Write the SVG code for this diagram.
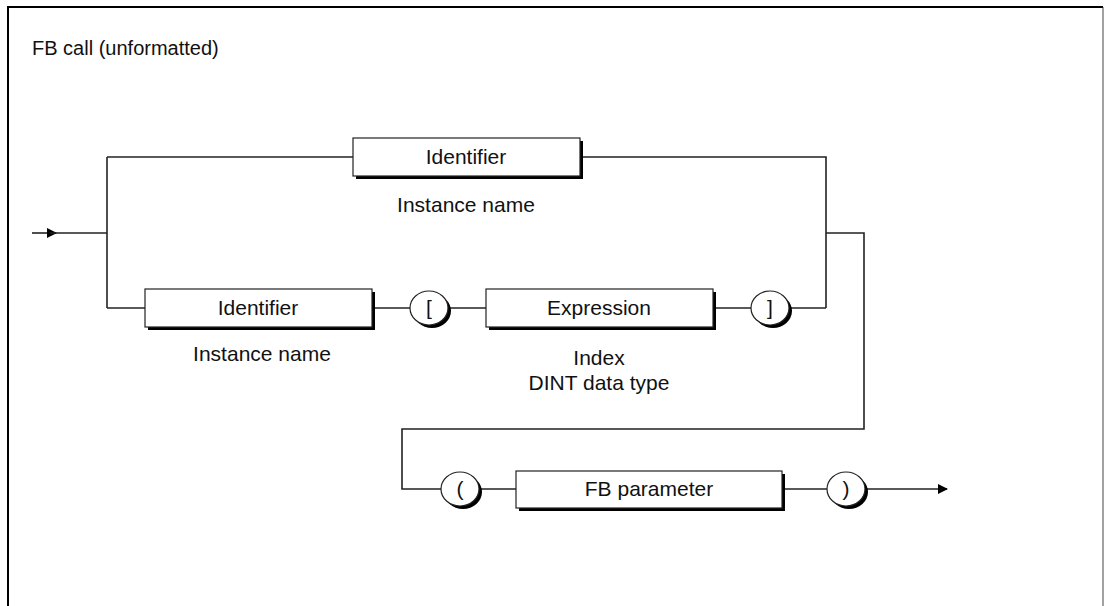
<svg xmlns="http://www.w3.org/2000/svg" width="1105" height="606" viewBox="0 0 1105 606">
<style>
.t{font-family:"Liberation Sans",Arial,sans-serif;font-size:21px;fill:#111;text-anchor:middle}
.ln{fill:none;stroke:#222;stroke-width:1.6}
.box{fill:#fff;stroke:#222;stroke-width:1.2}
.sh{fill:#000}
</style>
<defs>
<marker id="arr" markerWidth="10" markerHeight="10" refX="9" refY="5" orient="auto" markerUnits="userSpaceOnUse">
<path d="M0,0 L10,5 L0,10 Z" fill="#000"/>
</marker>
</defs>
<rect x="0" y="0" width="1105" height="606" fill="#fff"/>
<path d="M8,606 V7 H1103" fill="none" stroke="#000" stroke-width="2"/>
<line x1="1103" y1="7" x2="1103" y2="606" stroke="#444" stroke-width="1"/>
<text x="32" y="55" class="t" style="text-anchor:start;font-size:20px">FB call (unformatted)</text>

<g id="connectors">
<path class="ln" d="M32,233 H56" marker-end="url(#arr)"/>
<path class="ln" d="M50,233 H107"/>
<path class="ln" d="M107,157 V308"/>
<path class="ln" d="M107,157 H353"/>
<path class="ln" d="M583,157 H826 V308"/>
<path class="ln" d="M107,308 H145"/>
<path class="ln" d="M372,308 H410"/>
<path class="ln" d="M448,308 H486"/>
<path class="ln" d="M713,308 H751"/>
<path class="ln" d="M789,308 H826"/>
<path class="ln" d="M826,233 H864 V429 H402 V489 H441"/>
<path class="ln" d="M479,489 H516"/>
<path class="ln" d="M782,489 H827"/>
<path class="ln" d="M865,489 H947" marker-end="url(#arr)"/>
</g>

<g id="n_identifier_top">
<rect class="sh" x="356" y="141" width="227" height="38"/>
<rect class="box" x="353" y="138" width="227" height="38"/>
<text x="466" y="164" class="t">Identifier</text>
</g>
<g id="lbl_instance_top"><text x="466" y="212" class="t">Instance name</text></g>

<g id="n_identifier_bottom">
<rect class="sh" x="148" y="292" width="227" height="38"/>
<rect class="box" x="145" y="289" width="227" height="38"/>
<text x="258" y="315" class="t">Identifier</text>
</g>
<g id="lbl_instance_bottom"><text x="262" y="361" class="t">Instance name</text></g>

<g id="n_lbracket">
<ellipse class="sh" cx="432" cy="311" rx="19" ry="17"/>
<ellipse class="box" cx="429" cy="308" rx="19" ry="17"/>
<text x="429" y="315" class="t">[</text>
</g>

<g id="n_expression">
<rect class="sh" x="489" y="292" width="227" height="38"/>
<rect class="box" x="486" y="289" width="227" height="38"/>
<text x="599" y="315" class="t">Expression</text>
</g>
<g id="lbl_index">
<text x="599" y="365" class="t">Index</text>
<text x="599" y="390" class="t">DINT data type</text>
</g>

<g id="n_rbracket">
<ellipse class="sh" cx="773" cy="311" rx="19" ry="17"/>
<ellipse class="box" cx="770" cy="308" rx="19" ry="17"/>
<text x="770" y="315" class="t">]</text>
</g>

<g id="n_lparen">
<ellipse class="sh" cx="463" cy="492" rx="19" ry="17"/>
<ellipse class="box" cx="460" cy="489" rx="19" ry="17"/>
<text x="460" y="496" class="t">(</text>
</g>

<g id="n_fbparam">
<rect class="sh" x="519" y="474" width="266" height="37"/>
<rect class="box" x="516" y="471" width="266" height="37"/>
<text x="649" y="496" class="t">FB parameter</text>
</g>

<g id="n_rparen">
<ellipse class="sh" cx="849" cy="492" rx="19" ry="17"/>
<ellipse class="box" cx="846" cy="489" rx="19" ry="17"/>
<text x="846" y="496" class="t">)</text>
</g>
</svg>
